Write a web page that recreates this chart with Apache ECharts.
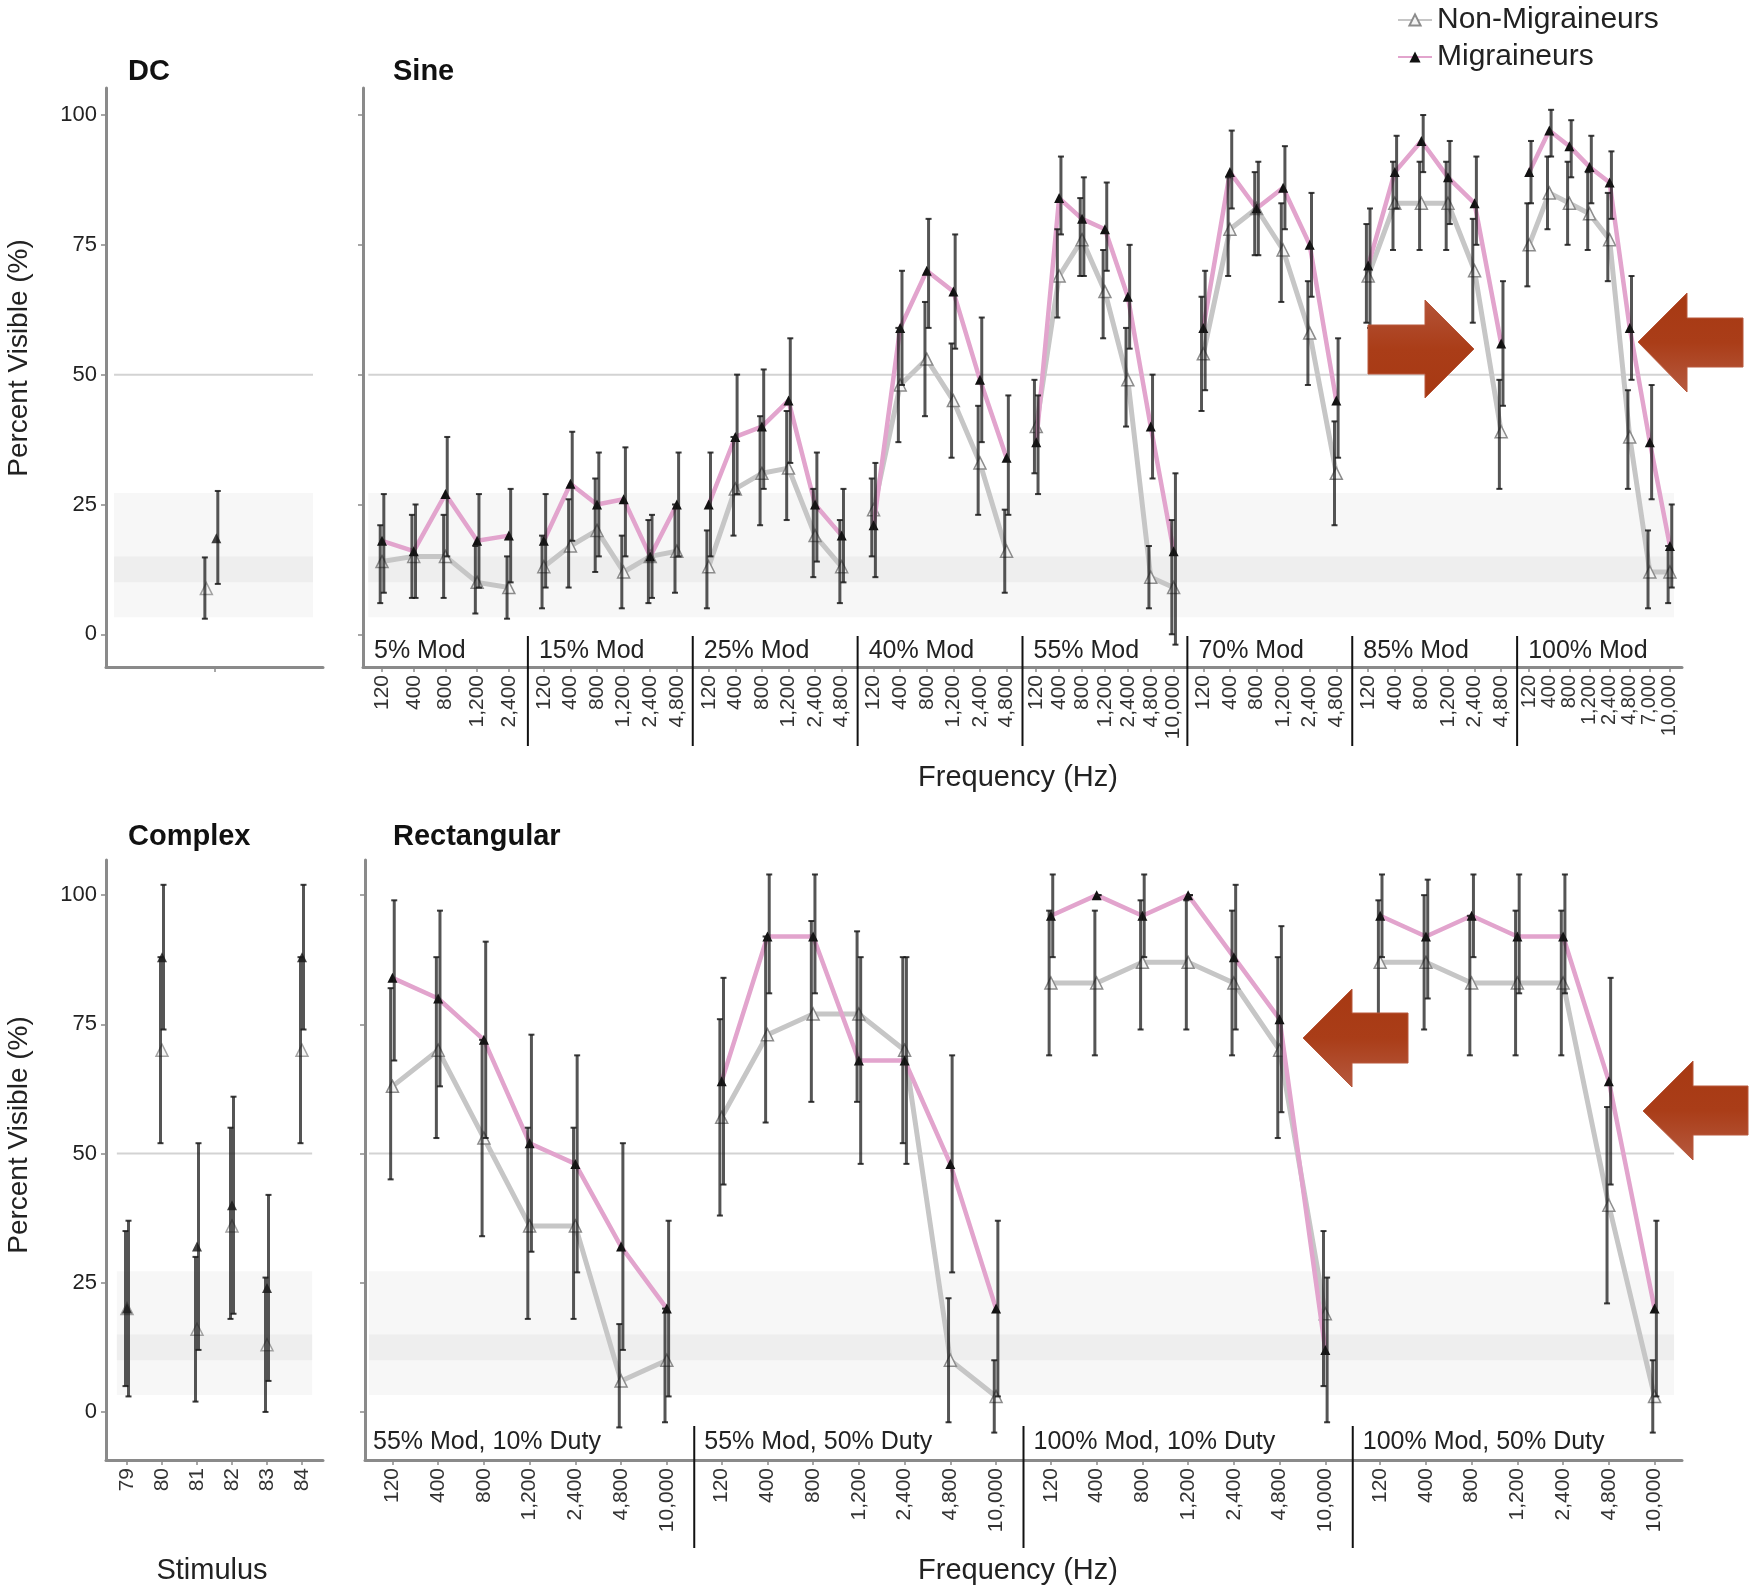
<!DOCTYPE html>
<html><head><meta charset="utf-8">
<script src="https://cdn.jsdelivr.net/npm/echarts@6/dist/echarts.min.js"></script>
<style>html,body{margin:0;padding:0;background:#fff}#c{width:1750px;height:1589px}</style>
</head><body><div id="c"></div><script>
// ---------------- DATA ----------------
const Y_TICKS = [0, 25, 50, 75, 100];
const BAND_OUTER = [3.3, 27.2];
const BAND_INNER = [10, 15];
const CHANCE = 50;

// DC
const dcNon = [8.8], dcNonLo = [3], dcNonHi = [14.8];
const dcMig = [18.5], dcMigLo = [9.7], dcMigHi = [27.6];

// Sine
const sineGroups = ['5% Mod', '15% Mod', '25% Mod', '40% Mod', '55% Mod', '70% Mod', '85% Mod', '100% Mod'];
const sineFreqs = [
  ['120', '400', '800', '1,200', '2,400'],
  ['120', '400', '800', '1,200', '2,400', '4,800'],
  ['120', '400', '800', '1,200', '2,400', '4,800'],
  ['120', '400', '800', '1,200', '2,400', '4,800'],
  ['120', '400', '800', '1,200', '2,400', '4,800', '10,000'],
  ['120', '400', '800', '1,200', '2,400', '4,800'],
  ['120', '400', '800', '1,200', '2,400', '4,800'],
  ['120', '400', '800', '1,200', '2,400', '4,800', '7,000', '10,000']
];
const sineMig = [
  [18, 16, 27, 18, 19],
  [18, 29, 25, 26, 15, 25],
  [25, 38, 40, 45, 25, 19],
  [21, 59, 70, 66, 49, 34],
  [37, 84, 80, 78, 65, 40, 16],
  [59, 89, 82, 86, 75, 45],
  [71, 89, 95, 88, 83, 56],
  [89, 97, 94, 90, 87, 59, 37, 17]
];
const sineMigLo = [
  [8, 7, 15, 9, 10],
  [9, 18, 15, 15, 7, 15],
  [15, 27, 28, 33, 14, 10],
  [11, 48, 59, 55, 37, 23],
  [27, 77, 69, 70, 55, 30, -2],
  [47, 82, 73, 78, 65, 34],
  [59, 82, 89, 79, 75, 44],
  [83, 92, 88, 83, 80, 49, 26, 9]
];
const sineMigHi = [
  [27, 25, 38, 27, 28],
  [27, 39, 35, 36, 23, 35],
  [35, 50, 51, 57, 35, 28],
  [33, 70, 80, 77, 61, 46],
  [46, 92, 88, 87, 75, 50, 31],
  [70, 97, 91, 94, 85, 57],
  [82, 96, 100, 95, 92, 68],
  [95, 101, 99, 96, 93, 69, 48, 25]
];
const sineNon = [
  [14, 15, 15, 10, 9],
  [13, 17, 20, 12, 15, 16],
  [13, 28, 31, 32, 19, 13],
  [24, 48, 53, 45, 33, 16],
  [40, 69, 76, 66, 49, 11, 9],
  [54, 78, 82, 74, 58, 31],
  [69, 83, 83, 83, 70, 39],
  [75, 85, 83, 81, 76, 38, 12, 12]
];
const sineNonLo = [
  [6, 7, 7, 4, 3],
  [5, 9, 12, 5, 6, 8],
  [5, 19, 21, 22, 11, 6],
  [15, 37, 42, 34, 23, 8],
  [31, 61, 69, 57, 40, 5, 0],
  [43, 69, 73, 64, 48, 21],
  [60, 74, 74, 74, 60, 28],
  [67, 78, 75, 74, 68, 28, 5, 6]
];
const sineNonHi = [
  [21, 23, 23, 17, 15],
  [19, 26, 30, 19, 22, 25],
  [20, 38, 42, 43, 28, 22],
  [30, 59, 64, 56, 44, 24],
  [49, 78, 84, 74, 59, 17, 22],
  [65, 88, 89, 83, 68, 41],
  [79, 91, 91, 91, 80, 49],
  [83, 92, 91, 89, 85, 47, 20, 17]
];

// Complex
const complexStimuli = ['79', '80', '81', '82', '83', '84'];
const cxMig = [20, 88, 32, 40, 24, 88];
const cxMigLo = [3, 74, 12, 19, 6, 74];
const cxMigHi = [37, 102, 52, 61, 42, 102];
const cxNon = [20, 70, 16, 36, 13, 70];
const cxNonLo = [5, 52, 2, 18, 0, 52];
const cxNonHi = [35, 88, 30, 55, 26, 88];

// Rectangular
const rectGroups = ['55% Mod, 10% Duty', '55% Mod, 50% Duty', '100% Mod, 10% Duty', '100% Mod, 50% Duty'];
const rectFreqs = ['120', '400', '800', '1,200', '2,400', '4,800', '10,000'];
const rectMig = [
  [84, 80, 72, 52, 48, 32, 20],
  [64, 92, 92, 68, 68, 48, 20],
  [96, 100, 96, 100, 88, 76, 12],
  [96, 92, 96, 92, 92, 64, 20]
];
const rectMigLo = [
  [68, 63, 53, 31, 27, 12, 3],
  [44, 81, 81, 48, 48, 27, 3],
  [88, 100, 88, 100, 74, 58, -2],
  [88, 80, 88, 81, 81, 44, 3]
];
const rectMigHi = [
  [99, 97, 91, 73, 69, 52, 37],
  [84, 104, 104, 88, 88, 69, 37],
  [104, 100, 104, 100, 102, 94, 26],
  [104, 103, 104, 104, 104, 84, 37]
];
const rectNon = [
  [63, 70, 53, 36, 36, 6, 10],
  [57, 73, 77, 77, 70, 10, 3],
  [83, 83, 87, 87, 83, 70, 19],
  [87, 87, 83, 83, 83, 40, 3]
];
const rectNonLo = [
  [45, 53, 34, 18, 18, -3, -2],
  [38, 56, 60, 60, 52, -2, -4],
  [69, 69, 74, 74, 69, 53, 5],
  [70, 74, 69, 69, 69, 21, -4]
];
const rectNonHi = [
  [82, 88, 72, 55, 55, 17, 20],
  [76, 92, 95, 93, 88, 22, 10],
  [97, 97, 99, 99, 97, 88, 35],
  [99, 100, 96, 97, 97, 59, 10]
];

// ---------------- LAYOUT / STYLE ----------------
const FONT = "'Liberation Sans', Arial, sans-serif";
const AX = '#8a8a8a';
const TOP = { y0: 88, y1: 667, range: [-6.3, 105.2] };
const BOT = { y0: 860, y1: 1460, range: [-9.3, 106.8] };
const NON_LINE = '#c6c6c6', MIG_LINE = '#e2a4cd';

const grid = [], xAxis = [], yAxis = [], series = [], graphic = [];

function addFrame(left, right, row, bandExt, showYLabels) {
  const gi = grid.length;
  grid.push({ left: left, top: row.y0, width: right - left, height: row.y1 - row.y0 });
  xAxis.push({ gridIndex: gi, type: 'value', min: 0, max: 1,
    axisLine: { show: true, onZero: false, lineStyle: { color: AX, width: 3 } },
    axisTick: { show: false }, axisLabel: { show: false }, splitLine: { show: false } });
  yAxis.push({ gridIndex: gi, type: 'value', min: row.range[0], max: row.range[1],
    axisLine: { show: true, onZero: false, lineStyle: { color: AX, width: 3 } },
    axisTick: { show: true, customValues: Y_TICKS, length: 5, lineStyle: { color: AX, width: 1.5 } },
    axisLabel: { show: showYLabels, customValues: Y_TICKS, fontSize: 22, fontFamily: FONT, color: '#222', margin: 9 },
    splitLine: { show: false } });
  series.push({ type: 'custom', xAxisIndex: gi, yAxisIndex: gi, silent: true, z: 0, clip: false,
    data: [[bandExt[0], bandExt[1]]],
    renderItem: function (params, api) {
      const xa = api.value(0), xb = api.value(1);
      const o1 = api.coord([xa, BAND_OUTER[1]]), o2 = api.coord([xb, BAND_OUTER[0]]);
      const i1 = api.coord([xa, BAND_INNER[1]]), i2 = api.coord([xb, BAND_INNER[0]]);
      const l1 = api.coord([xa, CHANCE]), l2 = api.coord([xb, CHANCE]);
      return { type: 'group', children: [
        { type: 'rect', shape: { x: o1[0], y: o1[1], width: o2[0] - o1[0], height: o2[1] - o1[1] }, style: { fill: '#f7f7f7' } },
        { type: 'rect', shape: { x: i1[0], y: i1[1], width: i2[0] - i1[0], height: i2[1] - i1[1] }, style: { fill: '#eeeeee' } },
        { type: 'line', shape: { x1: l1[0], y1: l1[1], x2: l2[0], y2: l2[1] }, style: { stroke: '#d3d3d3', lineWidth: 2 } }
      ] };
    } });
}

function errRender(dx) {
  return function (params, api) {
    const x = api.value(0), lo = api.value(1), hi = api.value(2);
    const a = api.coord([x, hi]), b = api.coord([x, lo]);
    const px = a[0] + dx, cw = 3;
    const st = { stroke: 'rgba(25,25,25,0.74)', lineWidth: 3 };
    const cs = { stroke: 'rgba(25,25,25,0.85)', lineWidth: 2 };
    return { type: 'group', children: [
      { type: 'line', shape: { x1: px, y1: a[1], x2: px, y2: b[1] }, style: st },
      { type: 'line', shape: { x1: px - cw, y1: a[1], x2: px + cw, y2: a[1] }, style: cs },
      { type: 'line', shape: { x1: px - cw, y1: b[1], x2: px + cw, y2: b[1] }, style: cs }
    ] };
  };
}

function addContent(left, width, row, labels, d) {
  const n = labels.length;
  const gi = grid.length;
  const ticks = labels.map(function (_, i) { return i + 1; });
  grid.push({ left: left, top: row.y0, width: width, height: row.y1 - row.y0 });
  xAxis.push({ gridIndex: gi, type: 'value', min: 0.4, max: n + 0.6,
    axisLine: { show: false, onZero: false },
    axisTick: { show: true, customValues: ticks, length: 5, lineStyle: { color: AX, width: 1.5 } },
    axisLabel: { show: d.showLabels !== false, customValues: ticks, rotate: 90, margin: 8,
      showMinLabel: true, showMaxLabel: true, hideOverlap: false,
      fontSize: d.labelSize || 21, fontFamily: FONT, color: '#333',
      formatter: function (v) { return labels[Math.round(v) - 1]; } },
    splitLine: { show: false } });
  yAxis.push({ gridIndex: gi, type: 'value', min: row.range[0], max: row.range[1], show: false });
  const xn = d.xNon || ticks, xm = d.xMig || ticks;
  const type = d.connect ? 'line' : 'scatter';
  series.push({ type: type, name: 'Non-Migraineurs', xAxisIndex: gi, yAxisIndex: gi, z: 2,
    data: d.non.map(function (v, i) { return [xn[i], v]; }),
    symbol: 'triangle', symbolSize: 12, showSymbol: true,
    lineStyle: { color: NON_LINE, width: 5 },
    itemStyle: { color: '#f4f4f4', borderColor: '#8c8c8c', borderWidth: 1.5 } });
  series.push({ type: type, name: 'Migraineurs', xAxisIndex: gi, yAxisIndex: gi, z: 3,
    data: d.mig.map(function (v, i) { return [xm[i], v]; }),
    symbol: 'triangle', symbolSize: 10, showSymbol: true,
    lineStyle: { color: MIG_LINE, width: 4.5 },
    itemStyle: { color: '#111' } });
  series.push({ type: 'custom', xAxisIndex: gi, yAxisIndex: gi, z: 4, silent: true, clip: false,
    encode: { x: 0, y: [1, 2] },
    data: d.non.map(function (v, i) { return [xn[i], d.nonLo[i], d.nonHi[i]]; }),
    renderItem: errRender(d.connect ? -1.8 : -1.5) });
  series.push({ type: 'custom', xAxisIndex: gi, yAxisIndex: gi, z: 4, silent: true, clip: false,
    encode: { x: 0, y: [1, 2] },
    data: d.mig.map(function (v, i) { return [xm[i], d.migLo[i], d.migHi[i]]; }),
    renderItem: errRender(d.connect ? 1.8 : 1.5) });
}

// ---- Sine panel
const SINE_L = 363, SINE_R = 1682, SINE_W = (SINE_R - SINE_L) / sineGroups.length;
addFrame(SINE_L, SINE_R, TOP, [0.004, 0.994], false);
sineGroups.forEach(function (g, k) {
  addContent(SINE_L + k * SINE_W, SINE_W, TOP, sineFreqs[k], {
    connect: true, labelSize: sineFreqs[k].length > 7 ? 20 : 21,
    non: sineNon[k], nonLo: sineNonLo[k], nonHi: sineNonHi[k],
    mig: sineMig[k], migLo: sineMigLo[k], migHi: sineMigHi[k] });
});
// ---- Rect panel
const RECT_L = 365, RECT_R = 1682, RECT_W = (RECT_R - RECT_L) / rectGroups.length;
addFrame(RECT_L, RECT_R, BOT, [0.003, 0.994], false);
rectGroups.forEach(function (g, k) {
  addContent(RECT_L + k * RECT_W, RECT_W, BOT, rectFreqs, {
    connect: true, non: rectNon[k], nonLo: rectNonLo[k], nonHi: rectNonHi[k],
    mig: rectMig[k], migLo: rectMigLo[k], migHi: rectMigHi[k] });
});
// ---- DC panel
addFrame(106, 323, TOP, [0.037, 0.954], true);
addContent(106, 217, TOP, [''], { connect: false, showLabels: false, xNon: [0.955], xMig: [1.01],
  non: dcNon, nonLo: dcNonLo, nonHi: dcNonHi, mig: dcMig, migLo: dcMigLo, migHi: dcMigHi });
// ---- Complex panel
addFrame(106, 323, BOT, [0.05, 0.95], true);
addContent(106, 217, BOT, complexStimuli, { connect: false,
  non: cxNon, nonLo: cxNonLo, nonHi: cxNonHi, mig: cxMig, migLo: cxMigLo, migHi: cxMigHi });

// ---------------- TEXT & DECORATION ----------------
function txt(t, x, y, size, opts) {
  opts = opts || {};
  graphic.push({ type: 'text', x: x, y: y, rotation: opts.rot || 0, z: 50,
    style: { text: t, x: 0, y: 0, font: (opts.bold ? 'bold ' : '') + size + 'px ' + FONT,
      fill: opts.color || '#111',
      align: opts.align || 'left', textAlign: opts.align || 'left',
      verticalAlign: 'middle', textVerticalAlign: 'middle' } });
}
txt('DC', 128, 72, 29, { bold: true });
txt('Sine', 393, 72, 29, { bold: true });
txt('Complex', 128, 837, 29, { bold: true });
txt('Rectangular', 393, 837, 29, { bold: true });
txt('Percent Visible (%)', 19, 358, 28, { rot: Math.PI / 2, align: 'center', color: '#222' });
txt('Percent Visible (%)', 19, 1135, 28, { rot: Math.PI / 2, align: 'center', color: '#222' });
txt('Frequency (Hz)', 1018, 778, 29, { align: 'center', color: '#222' });
txt('Frequency (Hz)', 1018, 1571, 29, { align: 'center', color: '#222' });
txt('Stimulus', 212, 1571, 29, { align: 'center', color: '#222' });

sineGroups.forEach(function (g, k) {
  txt(g, SINE_L + k * SINE_W + 11, 651, 25, { color: '#222' });
  if (k > 0) graphic.push({ type: 'line', z: 50, shape: { x1: SINE_L + k * SINE_W, y1: 636, x2: SINE_L + k * SINE_W, y2: 746 },
    style: { stroke: '#111', lineWidth: 2 } });
});
rectGroups.forEach(function (g, k) {
  txt(g, RECT_L + k * RECT_W + (k === 0 ? 8 : 10), 1442, 25, { color: '#222' });
  if (k > 0) graphic.push({ type: 'line', z: 50, shape: { x1: RECT_L + k * RECT_W, y1: 1426, x2: RECT_L + k * RECT_W, y2: 1548 },
    style: { stroke: '#111', lineWidth: 2 } });
});

function arrow(pts, lightTop) {
  graphic.push({ type: 'polygon', z: 60, shape: { points: pts },
    style: { fill: { type: 'linear', x: 0, y: 0, x2: 0, y2: 1, colorStops: lightTop ?
      [{ offset: 0, color: '#b45439' }, { offset: 0.5, color: '#aa3d18' }, { offset: 1, color: '#a73913' }] :
      [{ offset: 0, color: '#a73913' }, { offset: 0.5, color: '#aa3d18' }, { offset: 1, color: '#b65a40' }] },
      stroke: '#b8583c', lineWidth: 1 } });
}
arrow([[1368, 325], [1425, 325], [1425, 300], [1474, 349], [1425, 398], [1425, 374], [1368, 374]], true);
arrow([[1743, 318], [1687, 318], [1687, 293], [1638, 342], [1687, 392], [1687, 367], [1743, 367]], false);
arrow([[1408, 1013], [1352, 1013], [1352, 989], [1303, 1038], [1352, 1087], [1352, 1063], [1408, 1063]], false);
arrow([[1748, 1086], [1693, 1086], [1693, 1061], [1643, 1111], [1693, 1160], [1693, 1135], [1748, 1135]], false);

const chart = echarts.init(document.getElementById('c'), null, { renderer: 'canvas' });
chart.setOption({
  animation: false,
  backgroundColor: '#ffffff',
  legend: { data: ['Non-Migraineurs', 'Migraineurs'], orient: 'vertical', left: 1392, top: 0,
    itemWidth: 34, itemHeight: 14, itemGap: 7, selectedMode: false,
    textStyle: { fontSize: 30, fontFamily: FONT, color: '#222' } },
  grid: grid, xAxis: xAxis, yAxis: yAxis, series: series, graphic: graphic
});
</script></body></html>
